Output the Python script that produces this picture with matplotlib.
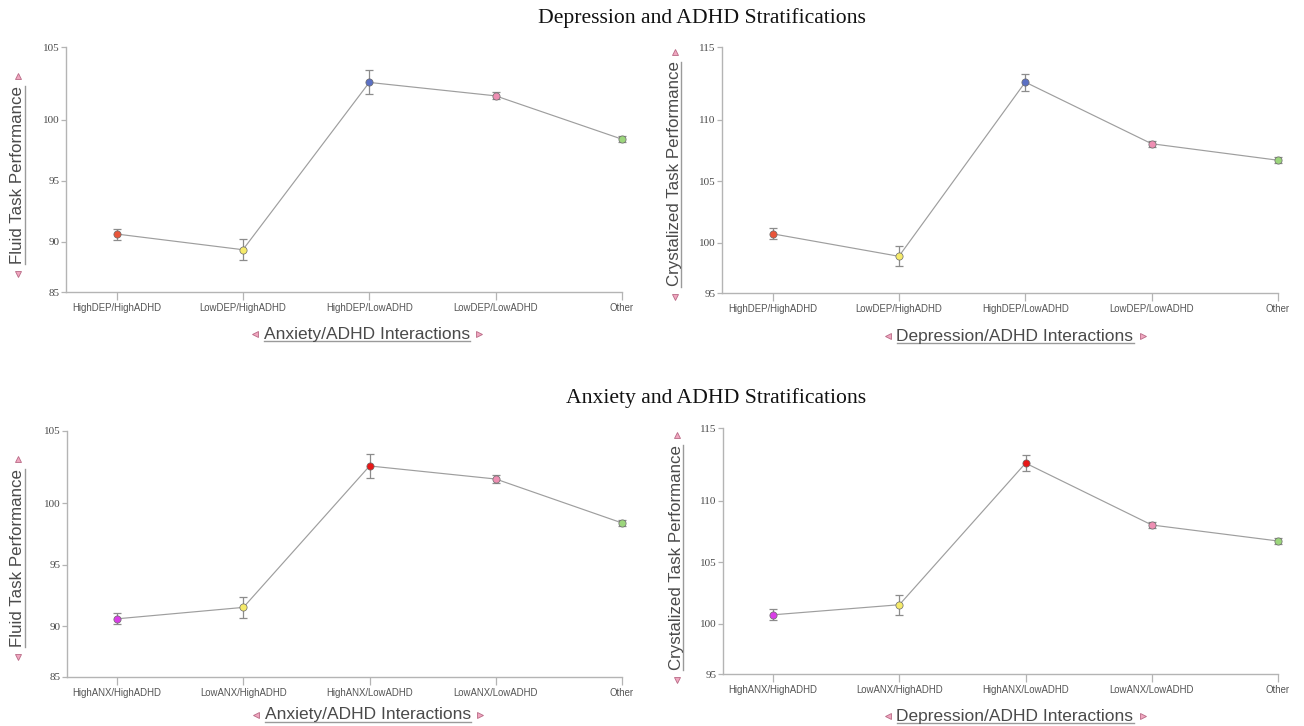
import matplotlib
matplotlib.use("Agg")
import numpy as np
import matplotlib.pyplot as plt
from matplotlib.lines import Line2D
from matplotlib.transforms import IdentityTransform

# ---------------- data ----------------
categories_dep = ["HighDEP/HighADHD", "LowDEP/HighADHD", "HighDEP/LowADHD", "LowDEP/LowADHD", "Other"]
categories_anx = ["HighANX/HighADHD", "LowANX/HighADHD", "HighANX/LowADHD", "LowANX/LowADHD", "Other"]

fluid_dep = [90.65, 89.23, 102.57, 101.64, 98.40]
fluid_dep_err = [0.45, 1.00, 0.83, 0.25, 0.25]
cryst_dep = [100.73, 98.66, 112.60, 108.06, 106.72]
cryst_dep_err = [0.45, 1.00, 0.58, 0.25, 0.25]

fluid_anx = [90.60, 91.53, 102.57, 101.67, 98.40]
fluid_anx_err = [0.45, 0.83, 0.85, 0.25, 0.25]
cryst_anx = [100.73, 101.55, 112.60, 108.04, 106.74]
cryst_anx_err = [0.45, 0.80, 0.55, 0.25, 0.25]

colors_dep = ["#e8553a", "#f5ea6a", "#5b70c4", "#ee8fb3", "#9cd67c"]
colors_anx = ["#d93ee6", "#f5ea6a", "#e81818", "#ee8fb3", "#9cd67c"]

fluid_ticks = [85, 90, 95, 100, 105]
cryst_ticks = [95, 100, 105, 110, 115]

titles = ["Depression and ADHD Stratifications", "Anxiety and ADHD Stratifications"]
xlabels = ["Anxiety/ADHD Interactions", "Depression/ADHD Interactions"]
ylabels = ["Fluid Task Performance", "Crystalized Task Performance"]

# relative on-screen spacing of the y tick intervals in the original (bottom→top)
tick_gap_weights = [50.5, 61.3, 61.5, 72.5]

# ---------------- figure ----------------
W, H = 1304, 726
fig = plt.figure(figsize=(W / 100, H / 100), dpi=100)
fig.patch.set_facecolor("white")

SANS = "Liberation Sans"
SERIF = "Liberation Serif"
SPINE = "#b4b4b4"
TXT = "#4a4a4a"


def px_axes(l, t, r, b):
    return fig.add_axes([l / W, 1 - b / H, (r - l) / W, (b - t) / H])


def make_scale(ticks):
    cum = np.concatenate([[0.0], np.cumsum(tick_gap_weights)])
    t = np.asarray(ticks, dtype=float)

    def fwd(v):
        v = np.asarray(v, dtype=float)
        return np.interp(v, t, cum) + \
            np.where(v < t[0], (v - t[0]) * (cum[1] - cum[0]) / (t[1] - t[0]), 0) + \
            np.where(v > t[-1], (v - t[-1]) * (cum[-1] - cum[-2]) / (t[-1] - t[-2]), 0)

    def inv(p):
        p = np.asarray(p, dtype=float)
        return np.interp(p, cum, t) + \
            np.where(p < cum[0], (p - cum[0]) * (t[1] - t[0]) / (cum[1] - cum[0]), 0) + \
            np.where(p > cum[-1], (p - cum[-1]) * (t[-1] - t[-2]) / (cum[-1] - cum[-2]), 0)

    return fwd, inv


def draw_panel(ax, cats, vals, errs, cols, ticks):
    ax.set_yscale("function", functions=make_scale(ticks))
    x = list(range(len(cats)))
    ax.plot(x, vals, color="#9e9e9e", lw=0.85, zorder=2, clip_on=False)
    ax.errorbar(x, vals, yerr=errs, fmt="none", ecolor="#8c8c8c",
                elinewidth=0.9, capsize=3.2, capthick=0.9, zorder=3, clip_on=False)
    for xi, v, c in zip(x, vals, cols):
        ax.plot([xi], [v], marker="o", ms=5.2, mfc=c, mec="#6a6a6a",
                mew=0.5, ls="none", zorder=4, clip_on=False)
    ax.set_xlim(-0.4, 4)
    ax.set_ylim(ticks[0], ticks[-1])
    ax.set_xticks(x)
    ax.set_xticklabels(cats, fontfamily=SANS, fontsize=6.9, color="#555555")
    ax.set_yticks(ticks)
    ax.set_yticks([], minor=True)
    ax.set_yticklabels([str(t) for t in ticks], fontfamily=SERIF, fontsize=8, color=TXT)
    for s in ["top", "right"]:
        ax.spines[s].set_visible(False)
    for s in ["left", "bottom"]:
        ax.spines[s].set_color(SPINE)
        ax.spines[s].set_linewidth(1.0)
    ax.tick_params(axis="x", length=6, width=0.9, color=SPINE, pad=2)
    ax.tick_params(axis="y", length=3.5, width=0.9, color=SPINE, pad=1)
    ax.set_facecolor("white")


panels = [
    ((66, 47.3, 622, 292.3), categories_dep, fluid_dep, fluid_dep_err, colors_dep, fluid_ticks),
    ((722, 47.3, 1278, 293.3), categories_dep, cryst_dep, cryst_dep_err, colors_dep, cryst_ticks),
    ((66.7, 430.7, 622, 676.7), categories_anx, fluid_anx, fluid_anx_err, colors_anx, fluid_ticks),
    ((722.7, 428.3, 1278, 674.3), categories_anx, cryst_anx, cryst_anx_err, colors_anx, cryst_ticks),
]
for box, cats, vals, errs, cols, ticks in panels:
    ax = px_axes(*box)
    draw_panel(ax, cats, vals, errs, cols, ticks)

# titles
fig.text(702 / W, 1 - 18 / H, titles[0], fontfamily=SERIF, fontsize=15.6,
         color="#111111", ha="center", va="center")
fig.text(716 / W, 1 - 398 / H, titles[1], fontfamily=SERIF, fontsize=15.6,
         color="#111111", ha="center", va="center")

# axis labels
xl_specs = [(367, 334, xlabels[0]), (1015, 336, xlabels[1]),
            (368, 715, xlabels[0]), (1015, 716, xlabels[1])]
yl_specs = [(18, 175, ylabels[0]), (675, 174, ylabels[1]),
            (18, 558, ylabels[0]), (677, 557, ylabels[1])]

xl_texts = []
for cx, cy, s in xl_specs:
    t = fig.text(cx / W, 1 - cy / H, s, fontfamily=SANS, fontsize=12.5,
                 color=TXT, ha="center", va="center")
    xl_texts.append(t)
yl_texts = []
for cx, cy, s in yl_specs:
    t = fig.text(cx / W, 1 - cy / H, s, fontfamily=SANS, fontsize=12.2,
                 color=TXT, ha="center", va="center", rotation=90)
    yl_texts.append(t)

fig.canvas.draw()
rend = fig.canvas.get_renderer()
TRI_FC = "#f0a6bf"
TRI_EC = "#b86a86"
for t in xl_texts:
    bb = t.get_window_extent(rend)
    fig.add_artist(Line2D([bb.x0, bb.x1], [bb.y0 + 1, bb.y0 + 1], color="#9a9a9a",
                          lw=1.0, transform=IdentityTransform()))
    ymid = (bb.y0 + bb.y1) / 2
    fig.add_artist(Line2D([bb.x0 - 9], [ymid], marker="<", ms=5, mfc=TRI_FC, mec=TRI_EC,
                          mew=0.6, ls="none", transform=IdentityTransform()))
    fig.add_artist(Line2D([bb.x1 + 9], [ymid], marker=">", ms=5, mfc=TRI_FC, mec=TRI_EC,
                          mew=0.6, ls="none", transform=IdentityTransform()))
for t in yl_texts:
    bb = t.get_window_extent(rend)
    fig.add_artist(Line2D([bb.x1 - 1, bb.x1 - 1], [bb.y0, bb.y1], color="#9a9a9a",
                          lw=1.0, transform=IdentityTransform()))
    xmid = (bb.x0 + bb.x1) / 2
    fig.add_artist(Line2D([xmid], [bb.y1 + 10], marker="^", ms=5, mfc=TRI_FC, mec=TRI_EC,
                          mew=0.6, ls="none", transform=IdentityTransform()))
    fig.add_artist(Line2D([xmid], [bb.y0 - 10], marker="v", ms=5, mfc=TRI_FC, mec=TRI_EC,
                          mew=0.6, ls="none", transform=IdentityTransform()))

fig.savefig("out.png", dpi=100, facecolor="white")
